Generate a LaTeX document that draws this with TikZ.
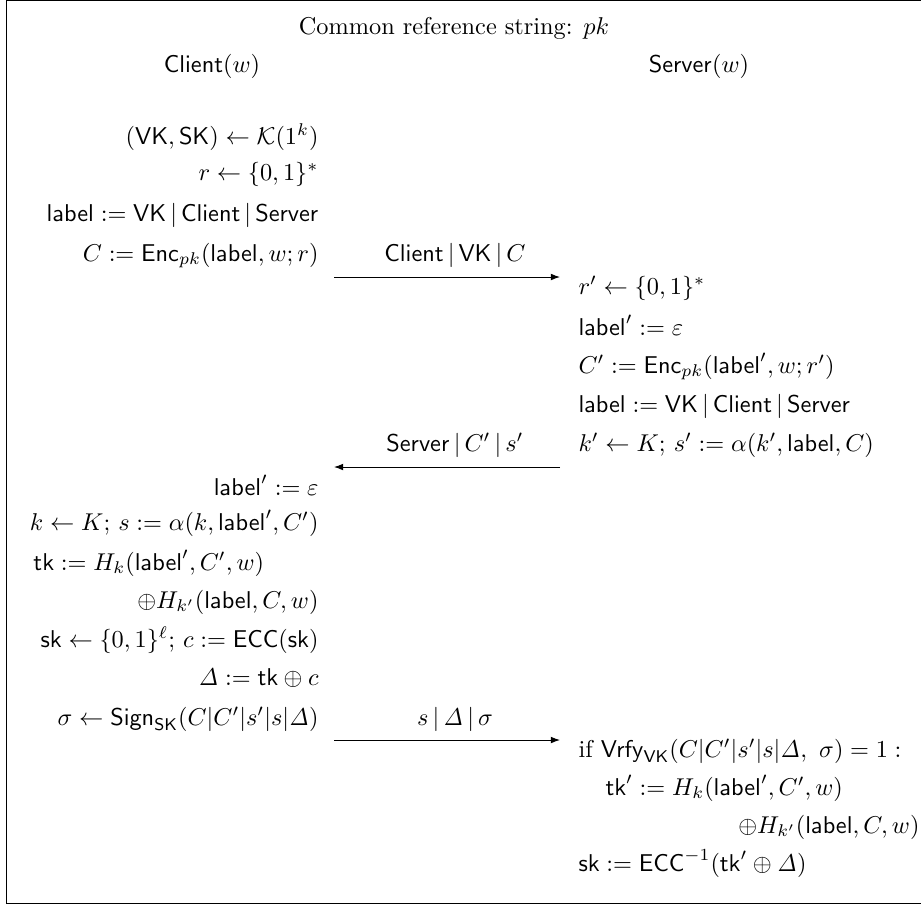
\documentclass[tikz,border=0pt]{standalone}
\usepackage{amsmath,amssymb}
\usetikzlibrary{arrows.meta}
\begin{document}
\begin{tikzpicture}[x=0.4115pt,y=-0.4115pt,
  lft/.style={anchor=base east,inner sep=0pt},
  rgt/.style={anchor=base west,inner sep=0pt},
  ctr/.style={anchor=base,inner sep=0pt},
  msglbl/.style={anchor=base,inner sep=0pt},
  flow/.style={-{Latex[length=3.8pt,width=2.8pt]},line width=0.4pt},
  frame/.style={line width=0.45pt}]
\useasboundingbox (0,0) rectangle (921,907);
\draw[frame] (935,903.5) -- (6.5,903.5) -- (6.5,0.8) -- (935,0.8);
% header
\node[ctr] (crs) at (454,34) {Common reference string: $pk$};
\node[ctr] (cl) at (212,72) {$\mathsf{Client}(w)$};
\node[ctr] (sv) at (699,72) {$\mathsf{Server}(w)$};
% client, first block
\node[lft] (c1) at (319,144) {$(\mathsf{VK},\mathsf{SK})\leftarrow\mathcal{K}(1^k)$};
\node[lft] (c2) at (319,180) {$r\leftarrow\{0,1\}^*$};
\node[lft] (c3) at (319,221) {$\mathsf{label}:=\mathsf{VK}\,|\,\mathsf{Client}\,|\,\mathsf{Server}$};
\node[lft] (c4) at (319,261) {$C:=\mathsf{Enc}_{pk}(\mathsf{label},w;r)$};
% server, first block
\node[rgt] (s1) at (578,294) {$r'\leftarrow\{0,1\}^*$};
\node[rgt] (s2) at (578,335) {$\mathsf{label}':=\varepsilon$};
\node[rgt] (s3) at (578,373) {$C':=\mathsf{Enc}_{pk}(\mathsf{label}',w;r')$};
\node[rgt] (s4) at (578,412) {$\mathsf{label}:=\mathsf{VK}\,|\,\mathsf{Client}\,|\,\mathsf{Server}$};
\node[rgt] (s5) at (578,451) {$k'\leftarrow K;\,s':=\alpha(k',\mathsf{label},C)$};
% client, second block
\node[lft] (c5) at (319,495) {$\mathsf{label}':=\varepsilon$};
\node[lft] (c6) at (319,530) {$k\leftarrow K;\,s:=\alpha(k,\mathsf{label}',C')$};
\node[rgt] (c7) at (33,570) {$\mathsf{tk}:=H_k(\mathsf{label}',C',w)$};
\node[lft] (c8) at (319,608) {$\oplus H_{k'}(\mathsf{label},C,w)$};
\node[lft] (c9) at (319,647) {$\mathsf{sk}\leftarrow\{0,1\}^\ell;\,c:=\mathsf{ECC}(\mathsf{sk})$};
\node[lft] (c10) at (319,685) {$\mathit{\Delta}:=\mathsf{tk}\oplus c$};
\node[lft] (c11) at (319,725) {$\sigma\leftarrow\mathsf{Sign}_{\mathsf{SK}}(C|C'|s'|s|\mathit{\Delta})$};
% server, second block
\node[rgt] (s6) at (578,757) {if $\mathsf{Vrfy}_{\mathsf{VK}}(C|C'|s'|s|\mathit{\Delta},\ \sigma)=1:$};
\node[rgt] (s7) at (605,795) {$\mathsf{tk}':=H_k(\mathsf{label}',C',w)$};
\node[lft] (s8) at (920,833) {$\oplus H_{k'}(\mathsf{label},C,w)$};
\node[rgt] (s9) at (578,871) {$\mathsf{sk}:=\mathsf{ECC}^{-1}(\mathsf{tk}'\oplus\mathit{\Delta})$};
% messages
\coordinate (m1a) at (334,277); \coordinate (m1b) at (560,277);
\coordinate (m2a) at (560,467); \coordinate (m2b) at (334,467);
\coordinate (m3a) at (334,740); \coordinate (m3b) at (560,740);
\draw[flow] (m1a) -- (m1b);
\draw[flow] (m2a) -- (m2b);
\draw[flow] (m3a) -- (m3b);
\node[msglbl] (l1) at (455,261) {$\mathsf{Client}\,|\,\mathsf{VK}\,|\,C$};
\node[msglbl] (l2) at (455,451) {$\mathsf{Server}\,|\,C'\,|\,s'$};
\node[msglbl] (l3) at (455,725) {$s\,|\,\mathit{\Delta}\,|\,\sigma$};
\end{tikzpicture}
\end{document}
